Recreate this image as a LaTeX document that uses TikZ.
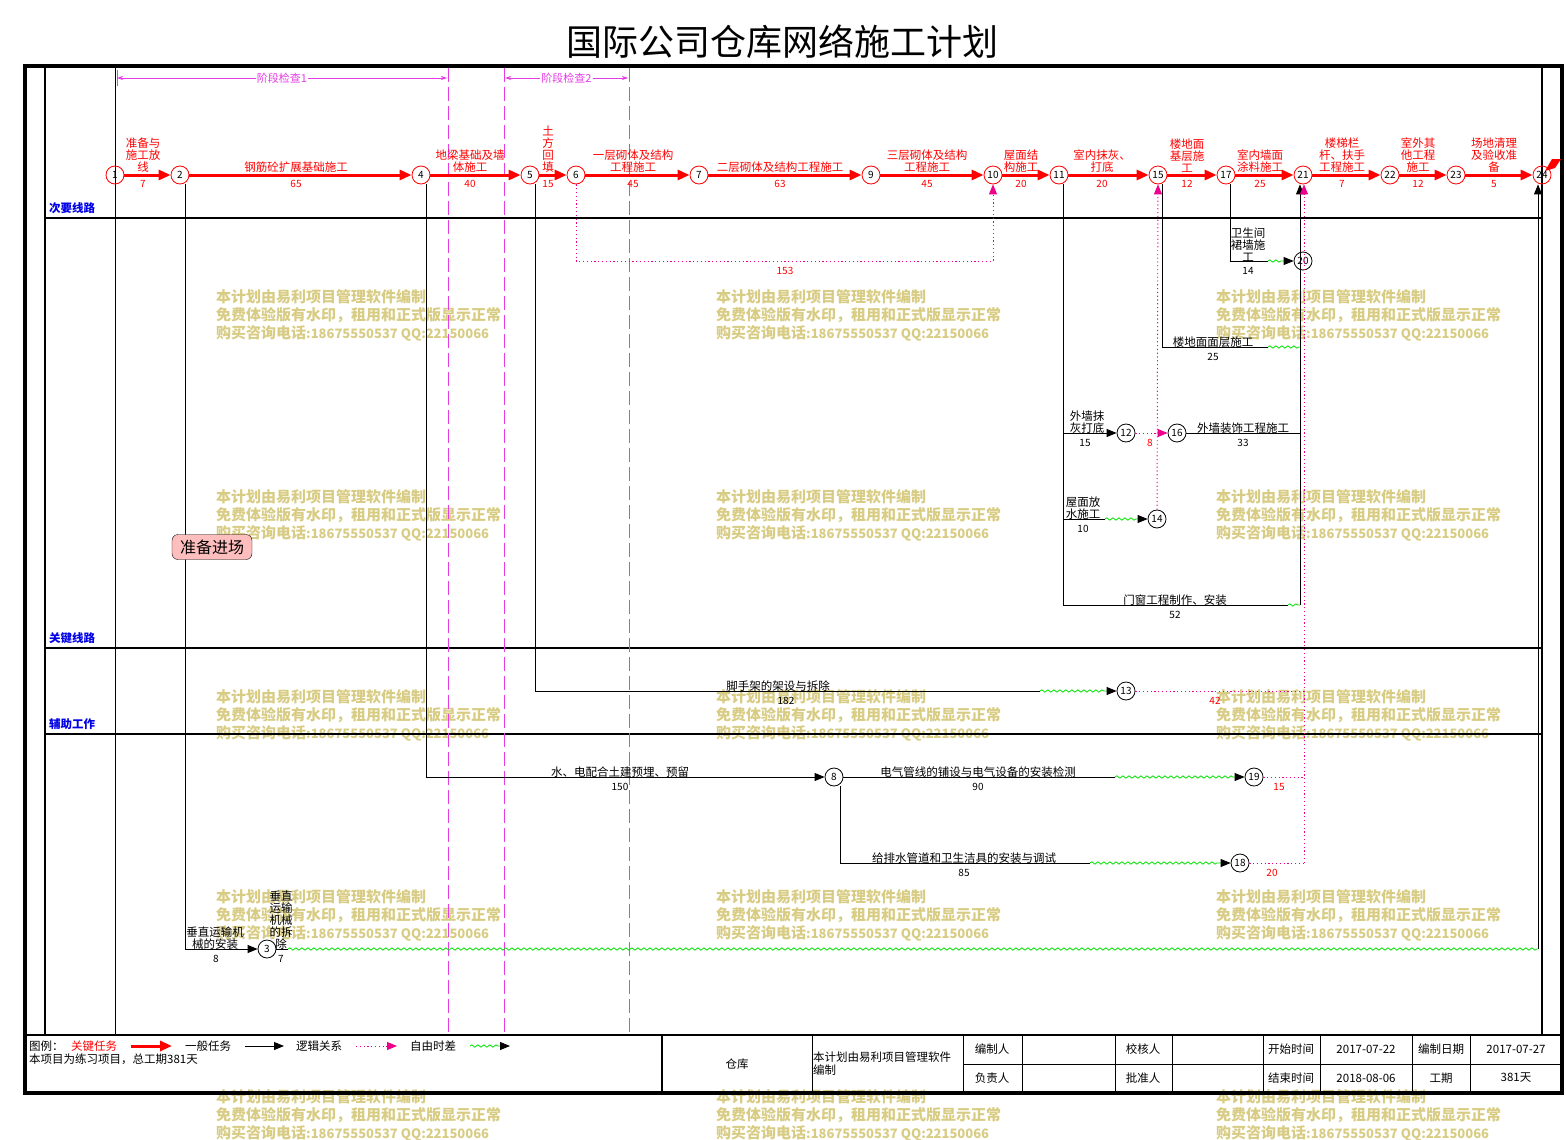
\documentclass[tikz,border=0pt]{standalone}
\usepackage{fontspec}
\setmainfont{Noto Sans CJK SC}
\usepackage{xcolor}
\usetikzlibrary{arrows.meta,decorations.pathmorphing,calc}

\definecolor{stage}{RGB}{230,60,230}
\definecolor{fgreen}{RGB}{0,225,0}
\definecolor{wmark}{RGB}{216,204,132}
\definecolor{lane}{RGB}{0,0,230}
\definecolor{pinkbox}{RGB}{255,190,190}

\tikzset{
  evt/.style={circle,draw,line width=0.8pt,inner sep=0pt,minimum size=18pt,font=\fontsize{10}{10}\selectfont},
  cevt/.style={evt,draw=red},
  crit/.style={draw=red,line width=3pt,-{Triangle[length=12pt,width=10pt]}},
  gen/.style={draw=black,line width=0.9pt,-{Triangle[length=10pt,width=8pt]}},
  genl/.style={draw=black,line width=0.9pt},
  logic/.style={draw=magenta,line width=0.9pt,dash pattern=on 1.2pt off 2.6pt,-{Triangle[magenta,length=10pt,width=8pt]}},
  logicl/.style={draw=magenta,line width=0.9pt,dash pattern=on 1.2pt off 2.6pt},
  wavel/.style={draw=fgreen,line width=0.8pt,decorate,decoration={snake,amplitude=1.2pt,segment length=6pt}},
  wave/.style={wavel,decoration={post length=11pt},-{Triangle[black,length=10pt,width=8pt]}},
  tk/.style={anchor=south,align=center,inner sep=1pt,font=\fontsize{11.5}{12}\selectfont},
  ctk/.style={tk,text=red},
  dur/.style={anchor=north,inner sep=1pt,font=\fontsize{10}{10}\selectfont},
  cdur/.style={dur,text=red},
  txt/.style={inner sep=1pt,font=\fontsize{11.5}{13}\selectfont},
  wmk/.style={anchor=north west,align=left,inner sep=0pt,text=wmark,font=\bfseries\fontsize{15}{18}\selectfont},
  lanel/.style={anchor=west,inner sep=1pt,text=lane,font=\bfseries\fontsize{11.5}{12}\selectfont},
  stg/.style={draw=stage,line width=0.8pt,{Stealth[length=6pt,width=4pt]}-{Stealth[length=6pt,width=4pt]}},
  stlbl/.style={fill=white,inner sep=1pt,text=stage,font=\fontsize{11}{11}\selectfont},
  stdash/.style={draw=stage,line width=1pt,dash pattern=on 14pt off 5pt},
}

\begin{document}
\begin{tikzpicture}[x=1pt,y=-1pt]
\useasboundingbox (0,0) rectangle (1566,1140);

% watermark
\foreach \wx in {216,716,1216}
  \foreach \wy in {297,497,697,897,1097}
    \node[wmk] at (\wx,\wy-8) (wm\wx\wy) {本计划由易利项目管理软件编制\\免费体验版有水印，租用和正式版显示正常\\购买咨询电话{\fontsize{13}{18}\selectfont :18675550537 QQ:22150066}};

\node at (782,42) (title) {\fontsize{36}{36}\selectfont 国际公司仓库网络施工计划};

% frame and lanes
\draw[line width=4pt] (25,66) rectangle (1562,1093);
\draw[line width=1.8pt] (45,66) -- (45,1035);
\draw[line width=0.8pt] (115,66) -- (115,1035);
\draw[line width=1.2pt] (1542,66) -- (1542,1035);
\foreach \ly in {218,648,734}
   \draw[line width=2.5pt] (45,\ly) -- (1542,\ly);
\draw[line width=2pt] (25,1035) -- (1562,1035);

\node[lanel] at (48,208) (ln1) {次要线路};
\node[lanel] at (48,638) (ln2) {关键线路};
\node[lanel] at (48,724) (ln3) {辅助工作};

% stage checks
\foreach \sx in {448,504,629}
   \draw[stdash] (\sx,68) -- (\sx,1035);
\draw[draw=stage,line width=0.8pt] (117,70) -- (117,86);
\coordinate (s1a) at (117,78);
\coordinate (s1b) at (447,78);
\coordinate (s2a) at (505,78);
\coordinate (s2b) at (628,78);
\draw[stg] (s1a) -- node[stlbl] (sl1) {阶段检查1} (s1b);
\draw[stg] (s2a) -- node[stlbl] (sl2) {阶段检查2} (s2b);

% events
\foreach \n/\x in {1/115,2/180,4/421,5/530,6/576,7/699,9/871,10/993,11/1059,15/1158,17/1226,21/1303,22/1390,23/1456,24/1542}
   \node[cevt] at (\x,175) (n\n) {\n};
\node[evt] at (267,949) (n3) {3};
\node[evt] at (834,777) (n8) {8};
\node[evt] at (1126,433) (n12) {12};
\node[evt] at (1126,691) (n13) {13};
\node[evt] at (1157,519) (n14) {14};
\node[evt] at (1177,433) (n16) {16};
\node[evt] at (1240,863) (n18) {18};
\node[evt] at (1254,777) (n19) {19};
\node[evt] at (1303,261) (n20) {20};
\fill[red] (1545,171) -- (1552,159) -- (1561,159) -- (1555,168) -- cycle;

% critical chain
\foreach \a/\b in {1/2,2/4,4/5,5/6,6/7,7/9,9/10,10/11,11/15,15/17,17/21,21/22,22/23,23/24}
   \draw[crit] (n\a) -- (n\b);

\foreach \k/\x/\t/\d in {12/143/{准备与\\施工放\\线}/7, 24/296/{钢筋砼扩展基础施工}/65,
   45/470/{地梁基础及墙\\体施工}/40, 56/548/{土\\方\\回\\填}/15,
   67/633/{一层砌体及结构\\工程施工}/45, 79/780/{二层砌体及结构工程施工}/63,
   910/927/{三层砌体及结构\\工程施工}/45, 1011/1021/{屋面结\\构施工}/20,
   1115/1102/{室内抹灰、\\打底}/20, 1517/1187/{楼地面\\基层施\\工}/12,
   1721/1260/{室内墙面\\涂料施工}/25, 2122/1342/{楼梯栏\\杆、扶手\\工程施工}/7,
   2223/1418/{室外其\\他工程\\施工}/12, 2324/1494/{场地清理\\及验收准\\备}/5}
   {
   \node[ctk] at (\x,174) (t\k) {\t};
   \node[cdur] at (\x,179) (d\k) {\d};
   }

% general tasks
\coordinate (w3) at (288,949);
\coordinate (c24) at (1538,949);
\coordinate (w13) at (1040,691);
\coordinate (w19) at (1115,777);
\coordinate (w18) at (1090,863);
\coordinate (b12) at (1063,433);
\coordinate (b14) at (1063,519);
\coordinate (w14) at (1105,519);
\coordinate (w605) at (1288,605);
\coordinate (j21) at (1300,605);
\coordinate (e16) at (1300,433);
\coordinate (w15) at (1268,347);
\coordinate (e15) at (1300,347);
\coordinate (w20) at (1268,261);

\draw[gen] ([xshift=5]n2.south) |- (n3);
\draw[genl] (n3) -- (w3);
\draw[wavel] (w3) -- (c24);
\draw[gen] (c24) -- ([xshift=-4]n24.south);
\draw[gen] ([xshift=5]n4.south) |- (n8);
\draw[genl] (n8) -- (w19);
\draw[wave] (w19) -- (n19);
\draw[genl] ([xshift=6]n8.south) |- (w18);
\draw[wave] (w18) -- (n18);
\draw[genl] ([xshift=5]n5.south) |- (w13);
\draw[wave] (w13) -- (n13);
\draw[genl] ([xshift=4]n11.south) |- (w605);
\draw[wavel] (w605) -- (j21);
\draw[gen] (j21) -- ([xshift=-3]n21.south);
\draw[gen] (b12) -- (n12);
\draw[genl] (b14) -- (w14);
\draw[wave] (w14) -- (n14);
\draw[genl] (n16) -- (e16);
\draw[genl] ([xshift=4]n15.south) |- (w15);
\draw[wavel] (w15) -- (e15);
\draw[genl] ([xshift=4]n17.south) |- (w20);
\draw[wave] (w20) -- (n20);

% logic links
\coordinate (d6) at (576,261);
\coordinate (d10) at (993,261);
\coordinate (j18) at (1304,863);
\draw[logic] (n6) -- (d6) -- (d10) -- (n10);
\draw[logic] (n12) -- (n16);
\draw[logic] (n14) -- (n15);
\draw[logicl] (n13) -- (n13 -| j18);
\draw[logicl] (n19) -- (n19 -| j18);
\draw[logicl] (n18) -- (j18);
\draw[logic] (j18) -- ([xshift=1]n21.south);

\node[draw,fill=pinkbox,rounded corners=6pt,inner sep=2pt,minimum width=80pt,minimum height=25pt,font=\fontsize{16}{16}\selectfont] at (212,547) (prep) {准备进场};

% task labels
\node[tk] at (215,951) (g23) {垂直运输机\\械的安装};
\node[dur] at (216,954) (h23) {8};
\node[tk] at (281,951) (g324) {垂直\\运输\\机械\\的拆\\除};
\node[dur] at (281,954) (h324) {7};
\node[tk] at (620,779) (g48) {水、电配合土建预埋、预留};
\node[dur] at (620,782) (h48) {150};
\node[tk] at (978,779) (g819) {电气管线的铺设与电气设备的安装检测};
\node[dur] at (978,782) (h819) {90};
\node[tk] at (964,865) (g818) {给排水管道和卫生洁具的安装与调试};
\node[dur] at (964,868) (h818) {85};
\node[tk] at (778,693) (g513) {脚手架的架设与拆除};
\node[dur] at (786,696) (h513) {182};
\node[tk] at (1087,435) (g1112) {外墙抹\\灰打底};
\node[dur] at (1085,438) (h1112) {15};
\node[tk] at (1083,521) (g1114) {屋面放\\水施工};
\node[dur] at (1083,524) (h1114) {10};
\node[tk] at (1175,607) (g1121) {门窗工程制作、安装};
\node[dur] at (1175,610) (h1121) {52};
\node[tk] at (1243,435) (g1621) {外墙装饰工程施工};
\node[dur] at (1243,438) (h1621) {33};
\node[tk] at (1213,349) (g1521) {楼地面面层施工};
\node[dur] at (1213,352) (h1521) {25};
\node[tk] at (1248,263) (g1720) {卫生间\\裙墙施\\工};
\node[dur] at (1248,266) (h1720) {14};
\node[cdur] at (785,266) (f610) {153};
\node[cdur] at (1150,438) (f1216) {8};
\node[cdur] at (1215,696) (f1321) {42};
\node[cdur] at (1279,782) (f1921) {15};
\node[cdur] at (1272,868) (f1821) {20};

% legend
\node[txt,anchor=west] at (28,1046) (lg0) {图例：};
\node[txt,anchor=west,text=red] at (70,1046) (lg1) {关键任务};
\node[txt,anchor=west] at (184,1046) (lg2) {一般任务};
\node[txt,anchor=west] at (295,1046) (lg3) {逻辑关系};
\node[txt,anchor=west] at (409,1046) (lg4) {自由时差};
\node[txt,anchor=west] at (28,1059) (lg5) {本项目为练习项目，总工期381天};
\coordinate (la1) at (131,1046);
\coordinate (lb1) at (172,1046);
\coordinate (la2) at (245,1046);
\coordinate (lb2) at (284,1046);
\coordinate (la3) at (356,1046);
\coordinate (lb3) at (397,1046);
\coordinate (la4) at (470,1046);
\coordinate (lb4) at (510,1046);
\draw[crit] (la1) -- (lb1);
\draw[gen] (la2) -- (lb2);
\draw[logic] (la3) -- (lb3);
\draw[wave] (la4) -- (lb4);

% title block
\draw[line width=1.6pt] (662,1035) -- (662,1093);
\foreach \tx in {812,963,1022,1115,1172,1263,1320,1412,1470}
   \draw[line width=0.8pt] (\tx,1035) -- (\tx,1093);
\draw[line width=0.8pt] (963,1064) -- (1562,1064);
\node[txt] at (737,1064) (tb0) {仓库};
\node[txt,anchor=west,align=left] at (812,1064) (tb1) {本计划由易利项目管理软件\\编制};
\node[txt] at (992,1049) (tb2) {编制人};
\node[txt] at (992,1078) (tb3) {负责人};
\node[txt] at (1143,1049) (tb4) {校核人};
\node[txt] at (1143,1078) (tb5) {批准人};
\node[txt] at (1291,1049) (tb6) {开始时间};
\node[txt] at (1291,1078) (tb7) {结束时间};
\node[txt] at (1366,1049) (tb8) {2017-07-22};
\node[txt] at (1366,1078) (tb9) {2018-08-06};
\node[txt] at (1441,1049) (tb10) {编制日期};
\node[txt] at (1441,1078) (tb11) {工期};
\node[txt] at (1516,1049) (tb12) {2017-07-27};
\node[txt] at (1516,1078) (tb13) {381天};
\end{tikzpicture}
\end{document}
